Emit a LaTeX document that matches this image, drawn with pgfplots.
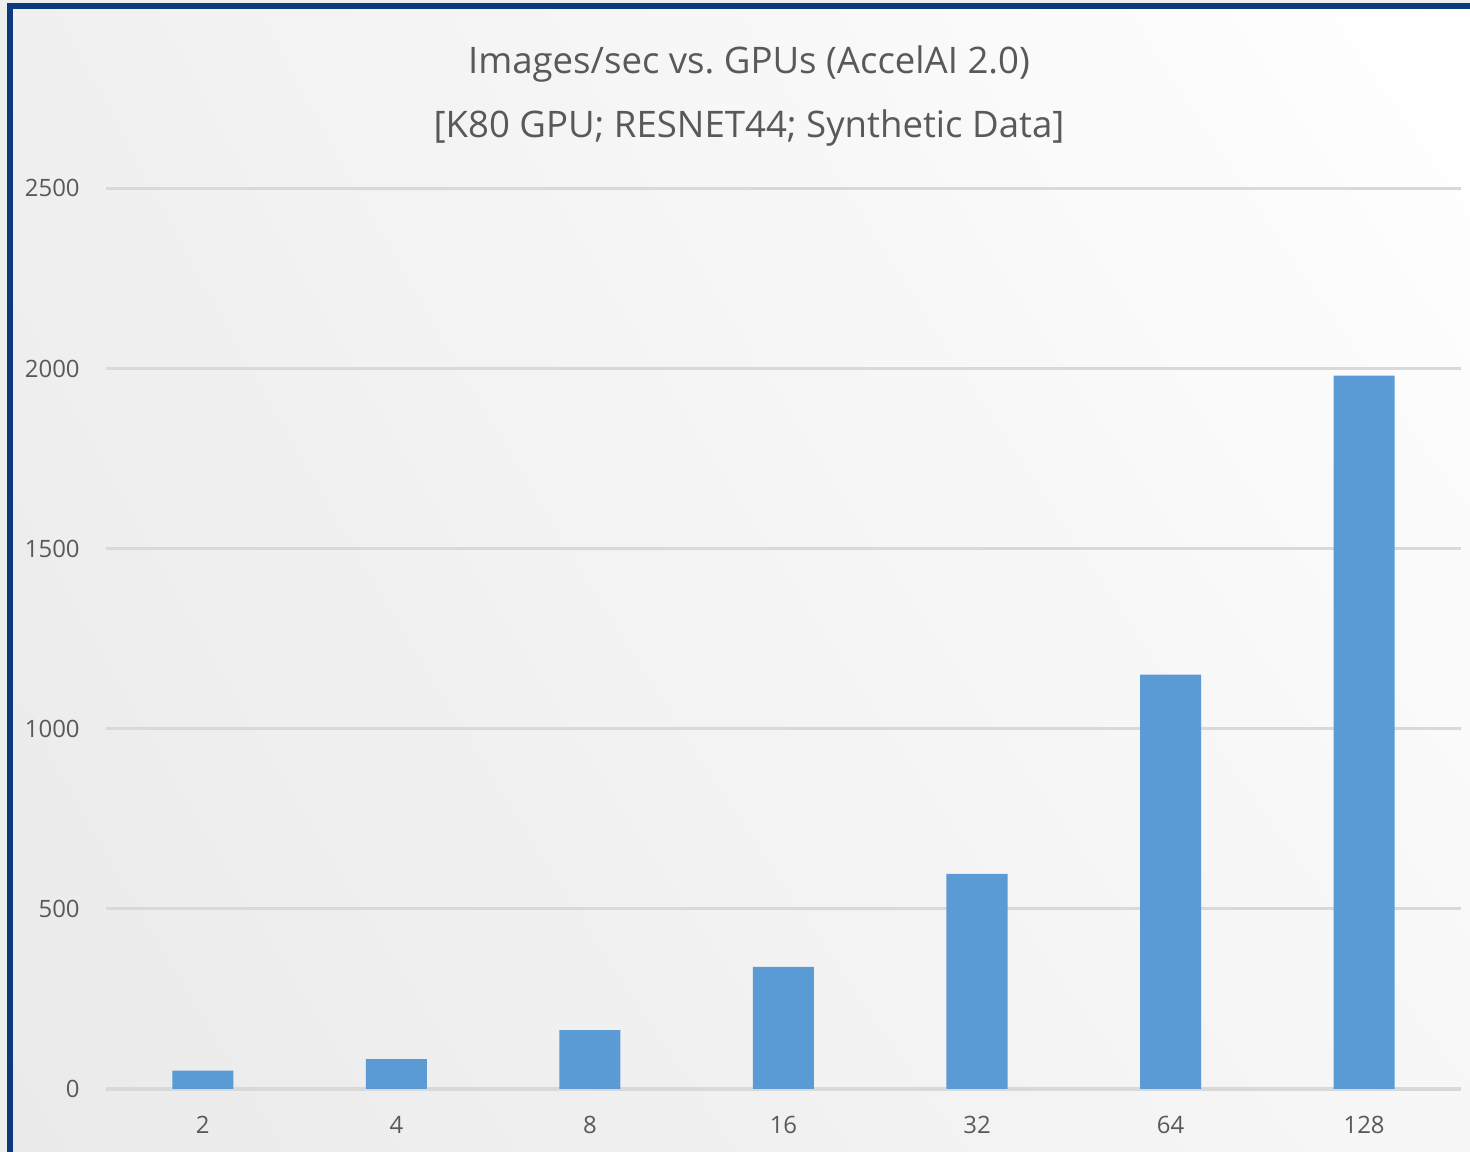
\documentclass[border=0pt]{standalone}
\usepackage{fontspec}
\setmainfont{Open Sans}
\usepackage{pgfplots}
\pgfplotsset{compat=1.18}
\usetikzlibrary{shadings}
\definecolor{txtgray}{HTML}{595959}
\definecolor{gridgray}{HTML}{D9D9D9}
\definecolor{barblue}{HTML}{5B9BD5}
\definecolor{framenavy}{HTML}{0B3A7E}
\definecolor{bgA}{HTML}{F0F0F0}
\definecolor{bgB}{HTML}{FFFFFF}
\definecolor{bgC}{HTML}{EAEAEA}
\definecolor{bgD}{HTML}{F7F7F7}
\begin{document}
\begin{tikzpicture}[x=0.01cm,y=0.01cm]
% page background and panel
\fill[color={rgb,255:red,238;green,238;blue,238}] (0,0) rectangle (1470,1152);
\useasboundingbox (0,0) rectangle (1470,1152);
\shade[upper left=bgA, upper right=bgB, lower left=bgC, lower right=bgD]
  (10,0) rectangle (1470,1145);
% frame (left and top edges)
\draw[framenavy, line width=0.06cm] (10,0) -- (10,1146) -- (1470,1146);
% titles
\node[txtgray, font=\fontsize{10.4}{12}\selectfont] at (749,1088) {Images/sec vs.\ GPUs (AccelAI 2.0)};
\node[txtgray, font=\fontsize{10.4}{12}\selectfont] at (749,1024) {[K80 GPU; RESNET44; Synthetic Data]};
\begin{axis}[
  at={(106cm/100,63cm/100)}, anchor=south west,
  scale only axis, width=13.54cm, height=9cm,
  xmin=-0.5, xmax=6.5, ymin=0, ymax=2500,
  ytick={0,500,1000,1500,2000,2500},
  xtick=data, xticklabels={2,4,8,16,32,64,128},
  axis line style={draw=none},
  axis x line*=bottom, axis y line*=left,
  x axis line style={draw=gridgray, line width=1pt},
  major tick length=0pt,
  ymajorgrids, grid style={gridgray, line width=0.8pt},
  tick label style={txtgray, font=\fontsize{6.8}{8}\selectfont},
  /pgf/number format/assume math mode=true,
  /pgf/number format/1000 sep={},
  yticklabel style={xshift=-0.14cm},
  xticklabel style={yshift=-0.15cm},
  clip=false,
]
\addplot[ybar, bar width=0.61cm, fill=barblue, draw=none] coordinates {
  (0,51) (1,83) (2,163) (3,339) (4,597) (5,1150) (6,1980)
};
\end{axis}
\end{tikzpicture}
\end{document}
